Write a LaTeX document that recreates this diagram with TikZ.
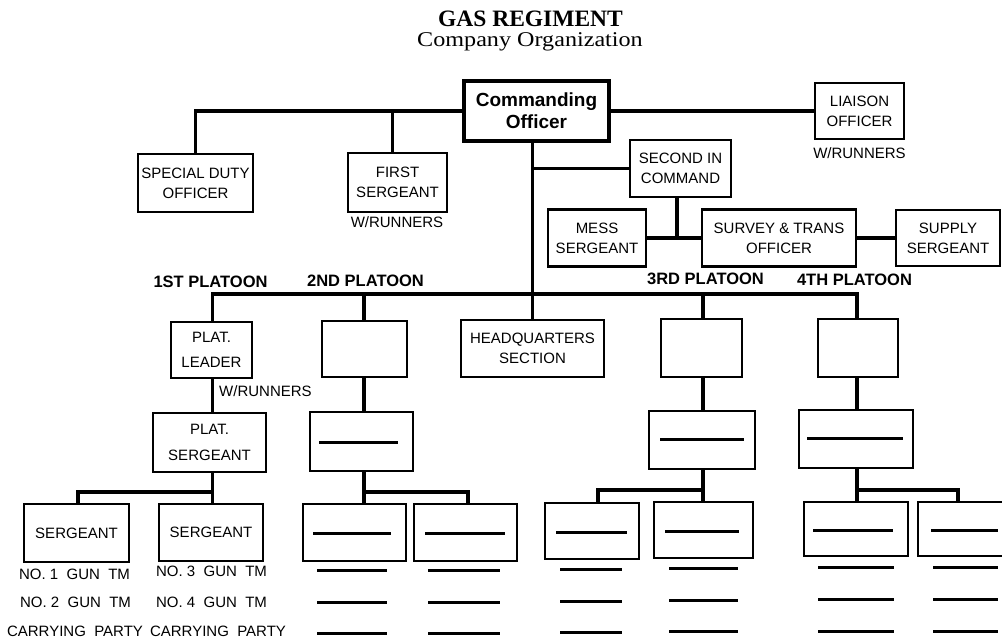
\documentclass[tikz,border=0pt]{standalone}
\usepackage{fontspec}
\setmainfont{Liberation Sans}
\newfontfamily\titlefont{Liberation Serif}
\newfontfamily\subfont[FakeStretch=1.15]{Liberation Serif}
\begin{document}
\begin{tikzpicture}[x=1pt,y=-1pt,
  box/.style={draw, line width=2.2pt, inner sep=0pt, align=center, font=\fontsize{15}{20}\selectfont},
  cobox/.style={draw, line width=3.8pt, inner sep=0pt, align=center, font=\fontsize{19}{22}\selectfont\bfseries},
  lbl/.style={inner sep=0pt, font=\fontsize{15}{20}\selectfont},
  plat/.style={inner sep=0pt, font=\fontsize{16.5}{20}\selectfont\bfseries},
  conn/.style={line width=3.6pt},
  bar/.style={line width=3pt}
]
\useasboundingbox (0,0) rectangle (1002,640);
% titles
\node[inner sep=0pt, font=\titlefont\fontsize{23.5}{26}\selectfont\bfseries] (title) at (530.5,19) {GAS REGIMENT};
\node[inner sep=0pt, font=\subfont\fontsize{21}{24}\selectfont] (sub) at (530,42) {Company Organization};

% top level
\node[cobox, minimum width=145, minimum height=60] (CO) at (536.5,111) {Commanding\\Officer};
\node[box, minimum width=115, minimum height=58] (SDO) at (195.5,183) {SPECIAL DUTY\\OFFICER};
\node[box, minimum width=99, minimum height=59] (FS) at (397.5,182.5) {FIRST\\SERGEANT};
\node[lbl] (FSr) at (397,222) {W/RUNNERS};
\node[box, minimum width=89, minimum height=56] (LO) at (859.5,111) {LIAISON\\OFFICER};
\node[lbl] (LOr) at (859.5,153) {W/RUNNERS};
\node[box, minimum width=101, minimum height=57] (SIC) at (680.5,168.5) {SECOND IN\\COMMAND};
\node[box, minimum width=98, minimum height=57] (MESS) at (597,238) {MESS\\SERGEANT};
\node[box, minimum width=154, minimum height=57] (SUR) at (779,238) {SURVEY \& TRANS\\OFFICER};
\node[box, minimum width=104, minimum height=56] (SUP) at (948,238) {SUPPLY\\SERGEANT};

% platoon labels
\node[plat] (P1) at (210.5,282) {1ST PLATOON};
\node[plat] (P2) at (365.5,281) {2ND PLATOON};
\node[plat] (P3) at (705.5,279) {3RD PLATOON};
\node[plat] (P4) at (854.5,280) {4TH PLATOON};

% HQ
\node[box, minimum width=143, minimum height=57] (HQ) at (532.5,348.5) {HEADQUARTERS\\SECTION};

% platoon 1
\node[box, minimum width=81, minimum height=56, font=\fontsize{15}{25}\selectfont] (L1) at (211.5,350) {PLAT.\\LEADER};
\node[lbl, anchor=west] (L1r) at (219,391) {W/RUNNERS};
\node[box, minimum width=113, minimum height=59, font=\fontsize{15}{26}\selectfont] (S1) at (209.5,442.5) {PLAT.\\SERGEANT};
\node[box, minimum width=105, minimum height=58] (A1) at (76.5,533) {SERGEANT};
\node[box, minimum width=104, minimum height=57] (B1) at (211,532.5) {SERGEANT};
\node[lbl] (t11) at (74.5,574) {NO.\ 1\ \ GUN\ \ TM};
\node[lbl] (t12) at (75.5,602.5) {NO.\ 2\ \ GUN\ \ TM};
\node[lbl] (t13) at (75,631.5) {CARRYING\ \ PARTY};
\node[lbl] (t21) at (211.5,571.5) {NO.\ 3\ \ GUN\ \ TM};
\node[lbl] (t22) at (211.5,602) {NO.\ 4\ \ GUN\ \ TM};
\node[lbl] (t23) at (218,631) {CARRYING\ \ PARTY};

% platoon 2
\node[box, minimum width=85, minimum height=56] (L2) at (364.5,349) {};
\node[box, minimum width=103, minimum height=59] (S2) at (361.5,441.5) {};
\node[box, minimum width=103, minimum height=57] (A2) at (354.5,532.5) {};
\node[box, minimum width=103, minimum height=57] (B2) at (465.5,532.5) {};

% platoon 3
\node[box, minimum width=81, minimum height=58] (L3) at (701.5,348) {};
\node[box, minimum width=106, minimum height=58] (S3) at (702,440) {};
\node[box, minimum width=94, minimum height=56] (A3) at (592,531) {};
\node[box, minimum width=99, minimum height=56] (B3) at (703.5,530) {};

% platoon 4
\node[box, minimum width=80, minimum height=58] (L4) at (858,348) {};
\node[box, minimum width=114, minimum height=58] (S4) at (856,439) {};
\node[box, minimum width=104, minimum height=54] (A4) at (856,529) {};
\node[box, minimum width=86, minimum height=54] (B4) at (961,529) {};

% coordinates
\coordinate (bus) at (0,294);
\coordinate (c1) at (212.5,0);
\coordinate (c2) at (364,0);
\coordinate (c3) at (703,0);
\coordinate (c4) at (857,0);
\coordinate (br1) at (0,492);
\coordinate (br2) at (0,492);
\coordinate (br3) at (0,490);
\coordinate (br4) at (0,490);
\coordinate (fsj) at ([xshift=-5]FS.north);
\coordinate (sj) at ([xshift=-3.5]SIC.south);

% connectors top
\draw[conn] (CO.west) -| (SDO.north);
\draw[conn] (fsj) -- (fsj |- CO.west);
\draw[conn] (CO.east) -- (LO.west);
\draw[conn] (CO.south -| HQ.north) -- (HQ.north);
\draw[conn] (SIC.west) -- (SIC.west -| HQ.north);
\draw[conn] (sj) -- (sj |- MESS.east);
\draw[conn] (MESS.east) -- (SUR.west);
\draw[conn] (SUR.east) -- (SUP.west);

% bus
\draw[conn] (c1 |- L1.north) -- (c1 |- bus) -- (c4 |- bus) -- (c4 |- L4.north);
\draw[conn] (c2 |- bus) -- (c2 |- L2.north);
\draw[conn] (c3 |- bus) -- (c3 |- L3.north);

% platoon 1
\draw[conn] (c1 |- L1.south) -- (c1 |- S1.north);
\draw[conn] (c1 |- S1.south) -- (c1 |- B1.north);
\draw[conn] (c1 |- br1) -| ([xshift=1.5]A1.north);
% platoon 2
\draw[conn] (c2 |- L2.south) -- (c2 |- S2.north);
\draw[conn] (c2 |- S2.south) -- (c2 |- A2.north);
\draw[conn] (c2 |- br2) -| ([xshift=2.5]B2.north);
% platoon 3
\draw[conn] (c3 |- L3.south) -- (c3 |- S3.north);
\draw[conn] (c3 |- S3.south) -- (c3 |- B3.north);
\draw[conn] (c3 |- br3) -| ([xshift=6]A3.north);
% platoon 4
\draw[conn] (c4 |- L4.south) -- (c4 |- S4.north);
\draw[conn] (c4 |- S4.south) -- (c4 |- A4.north);
\draw[conn] (c4 |- br4) -| ([xshift=-3]B4.north);

% blank bars inside boxes
\draw[bar] (319,442) -- (398,442);
\draw[bar] (313,533) -- (391,533);
\draw[bar] (425,533) -- (505,533);
\draw[bar] (660,439) -- (744,439);
\draw[bar] (556,532) -- (627,532);
\draw[bar] (665,531) -- (739,531);
\draw[bar] (807,438) -- (903,438);
\draw[bar] (813,530) -- (893,530);
\draw[bar] (931,530) -- (998,530);

% blank bars below boxes
\foreach \y in {570,602,633} {
  \draw[bar] (317,\y) -- (387,\y);
  \draw[bar] (428,\y) -- (500,\y);
}
\foreach \y in {569,601,632} {
  \draw[bar] (560,\y) -- (622,\y);
  \draw[bar] (669,\y-1) -- (738,\y-1);
}
\foreach \y in {567,599,631} {
  \draw[bar] (818,\y) -- (894,\y);
  \draw[bar] (933,\y) -- (998,\y);
}
\end{tikzpicture}
\end{document}
